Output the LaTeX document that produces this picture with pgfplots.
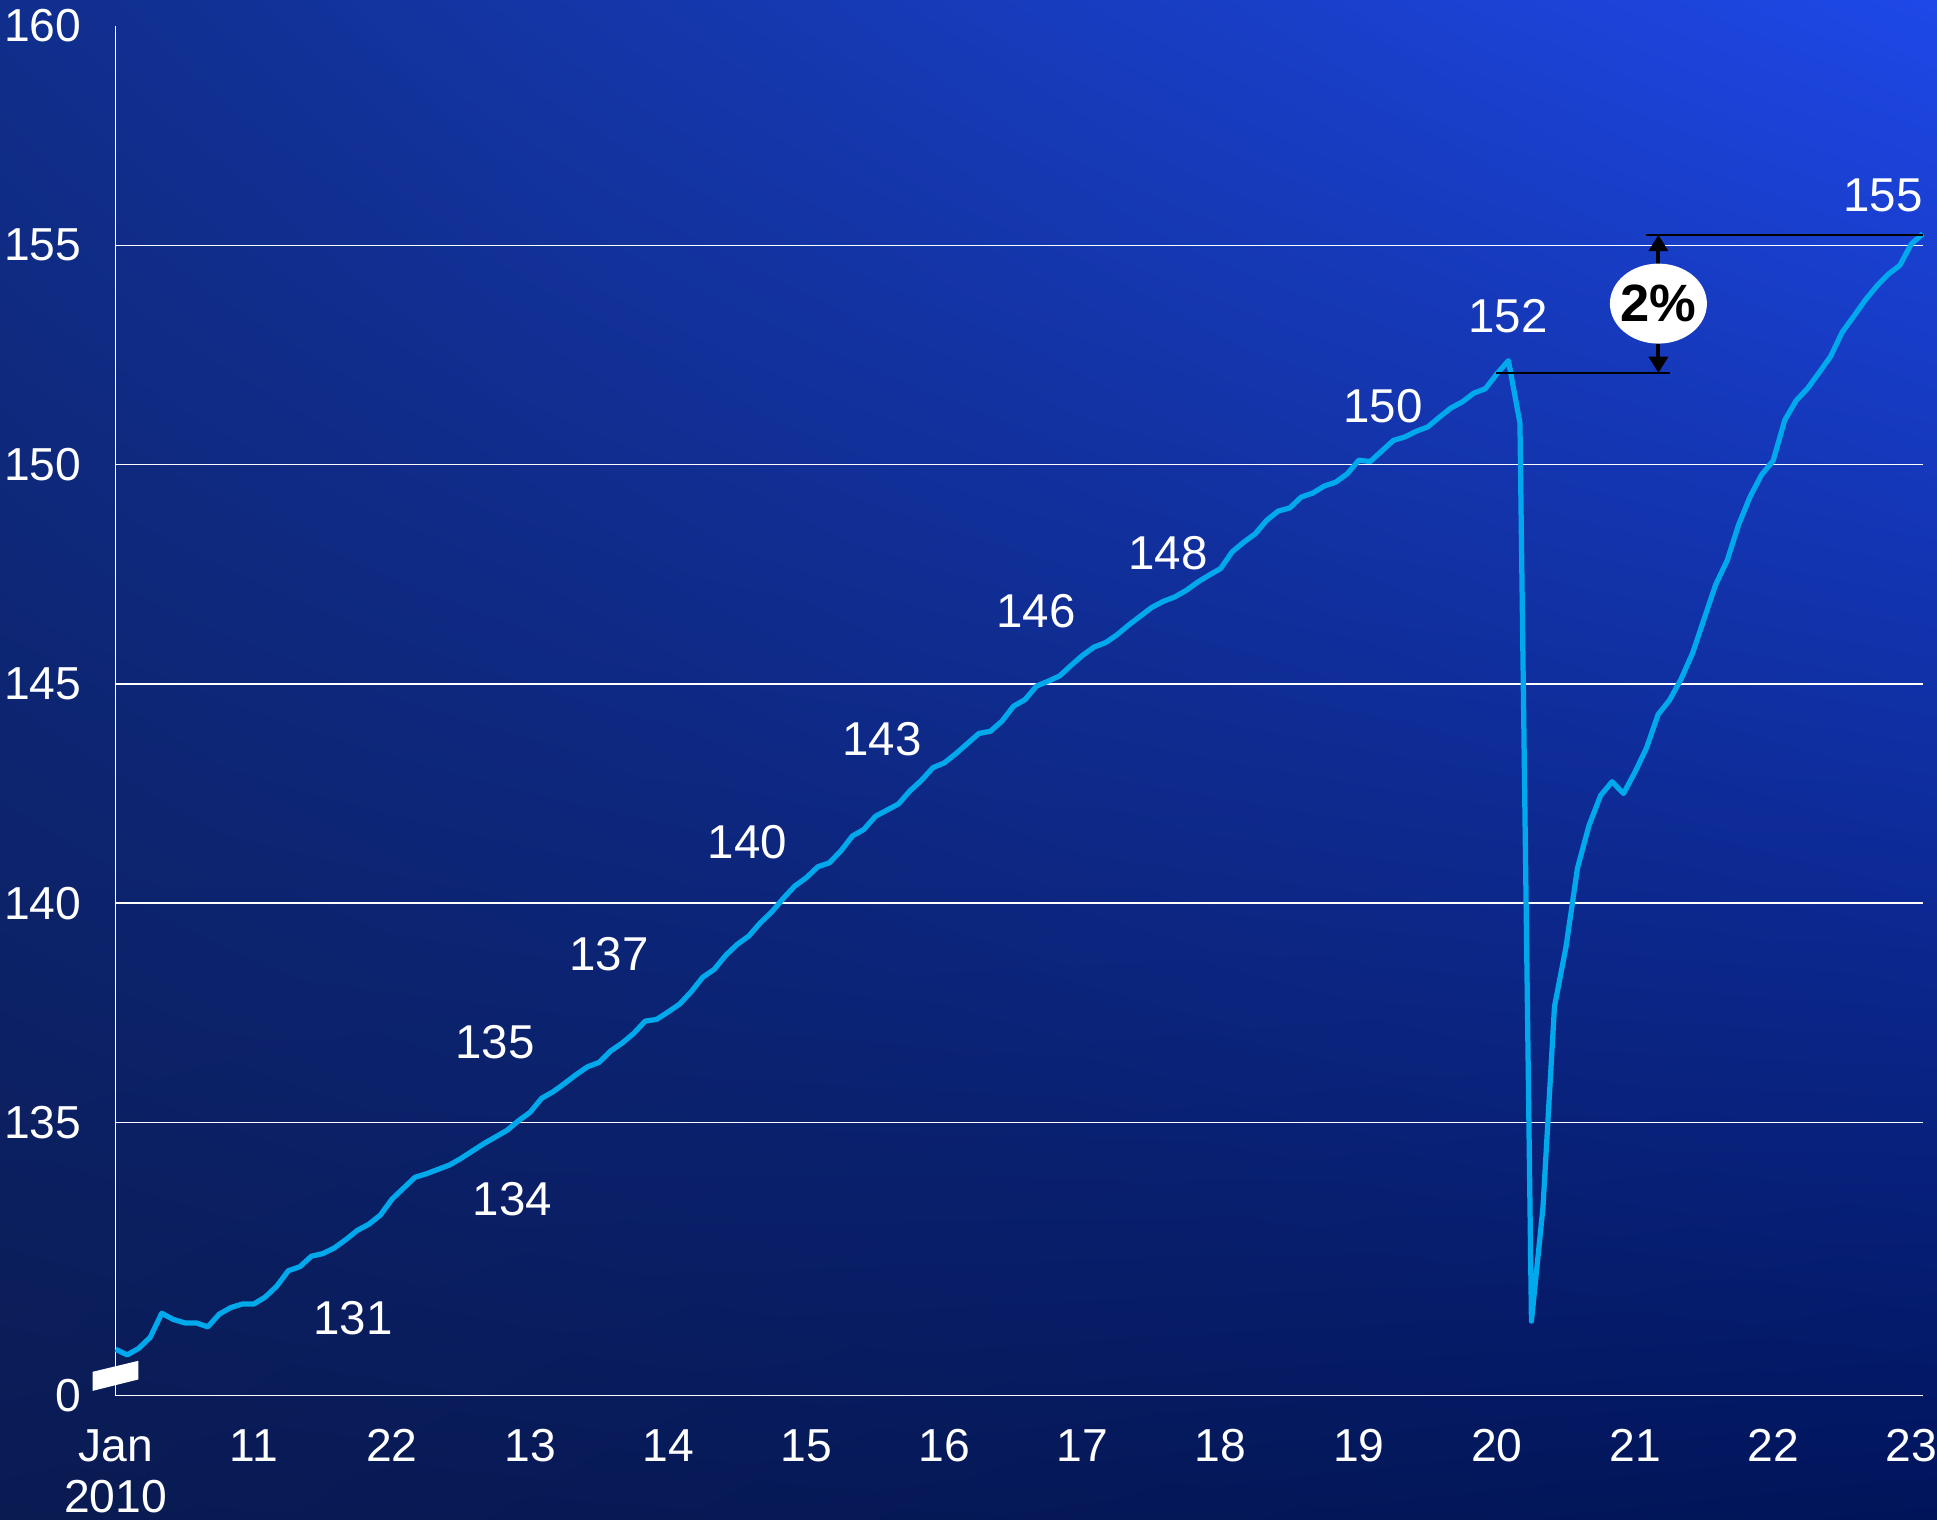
\documentclass[border=0pt]{standalone}
\usepackage{fontspec}
\setmainfont{Liberation Sans}
\usepackage{pgfplots}
\pgfplotsset{compat=1.18}
\usetikzlibrary{arrows.meta,shadings}
\definecolor{bgUL}{RGB}{16,46,140}
\definecolor{bgUR}{RGB}{30,72,232}
\definecolor{bgLL}{RGB}{10,27,82}
\definecolor{bgLR}{RGB}{0,20,90}
\definecolor{lineblue}{RGB}{0,168,236}
\begin{document}
\begin{tikzpicture}
\shade[upper left=bgUL, upper right=bgUR, lower left=bgLL, lower right=bgLR] (0,0) rectangle (774.8pt,608pt);
\begin{axis}[
  at={(46.28pt,49.72pt)}, anchor=south west,
  scale only axis, width=722.84pt, height=547.88pt,
  xmin=0, xmax=157, ymin=128.77, ymax=160,
  enlargelimits=false, clip=false,
  axis x line*=bottom, axis y line*=left,
  axis line style={white, line width=0.55pt, -},
  x axis line style={-}, y axis line style={-},
  major tick length=0pt, tick style={draw=none},
  xtick={0,12,24,36,48,60,72,84,96,108,120,132,144,156},
  xticklabels={{Jan\\2010},11,22,13,14,15,16,17,18,19,20,21,22,23},
  ytick={135,140,145,150,155},
  yticklabels={135,140,145,150,155},
  extra y ticks={128.77,160}, extra y tick labels={0,160},
  extra y tick style={grid=none},
  ymajorgrids, grid style={white, line width=0.55pt},
  tick label style={font=\fontsize{18.5}{20.6}\selectfont, text=white},
  xticklabel style={anchor=north, inner sep=0pt, yshift=-13.3pt, align=center},
  yticklabel style={anchor=east, inner sep=0pt, xshift=-13.6pt},
]
\addplot[color=lineblue, line width=2.1pt, line join=round, no markers] table[x=m, y=v] {
m v
0 129.83
1 129.70
2 129.85
3 130.10
4 130.65
5 130.51
6 130.43
7 130.43
8 130.34
9 130.63
10 130.78
11 130.86
12 130.86
13 131.02
14 131.27
15 131.62
16 131.71
17 131.95
18 132.01
19 132.14
20 132.33
21 132.54
22 132.68
23 132.89
24 133.25
25 133.50
26 133.75
27 133.83
28 133.93
29 134.03
30 134.18
31 134.35
32 134.52
33 134.67
34 134.82
35 135.04
36 135.23
37 135.55
38 135.70
39 135.89
40 136.09
41 136.27
42 136.37
43 136.63
44 136.81
45 137.03
46 137.31
47 137.35
48 137.52
49 137.70
50 137.98
51 138.31
52 138.49
53 138.81
54 139.06
55 139.25
56 139.55
57 139.80
58 140.11
59 140.39
60 140.58
61 140.83
62 140.92
63 141.19
64 141.53
65 141.68
66 141.98
67 142.12
68 142.26
69 142.56
70 142.80
71 143.09
72 143.20
73 143.41
74 143.64
75 143.87
76 143.92
77 144.15
78 144.49
79 144.64
80 144.95
81 145.06
82 145.18
83 145.42
84 145.65
85 145.84
86 145.94
87 146.12
88 146.34
89 146.54
90 146.74
91 146.88
92 146.98
93 147.13
94 147.32
95 147.48
96 147.63
97 148.01
98 148.23
99 148.42
100 148.73
101 148.94
102 149.01
103 149.26
104 149.35
105 149.51
106 149.60
107 149.79
108 150.10
109 150.07
110 150.31
111 150.55
112 150.63
113 150.76
114 150.86
115 151.08
116 151.29
117 151.43
118 151.63
119 151.73
120 152.07
121 152.37
122 150.95
123 130.47
124 133.06
125 137.64
126 139.00
127 140.80
128 141.77
129 142.45
130 142.77
131 142.50
132 142.99
133 143.54
134 144.30
135 144.63
136 145.11
137 145.70
138 146.48
139 147.26
140 147.81
141 148.63
142 149.27
143 149.77
144 150.09
145 151.01
146 151.46
147 151.74
148 152.10
149 152.47
150 153.02
151 153.38
152 153.75
153 154.07
154 154.34
155 154.54
156 155.03
157 155.26
};
% axis break
\fill[white] (axis cs:-2.0,129.315) -- (axis cs:1.96,129.565) -- (axis cs:1.96,129.14) -- (axis cs:-2.0,128.88) -- cycle;
% value annotations
\begin{scope}[every node/.style={text=white, font=\fontsize{19}{21.6}\selectfont}]
\node at (axis cs:20.62,130.54) {131};
\node at (axis cs:34.47,133.25) {134};
\node at (axis cs:32.95,136.82) {135};
\node at (axis cs:42.86,138.84) {137};
\node at (axis cs:54.89,141.38) {140};
\node at (axis cs:66.58,143.74) {143};
\node at (axis cs:79.96,146.66) {146};
\node at (axis cs:91.42,147.99) {148};
\node at (axis cs:110.10,151.33) {150};
\node at (axis cs:120.96,153.38) {152};
\node at (axis cs:153.55,156.14) {155};
\end{scope}
% 2% marker
\draw[black, line width=0.75pt] (axis cs:132.95,155.24) -- (axis cs:157,155.24);
\draw[black, line width=0.75pt] (axis cs:119.93,152.09) -- (axis cs:135.04,152.09);
\draw[black, line width=1.6pt, -{Triangle[width=7.5pt,length=6.5pt]}] (axis cs:134.03,154.5) -- (axis cs:134.03,155.24);
\draw[black, line width=1.6pt, -{Triangle[width=7.5pt,length=6.5pt]}] (axis cs:134.03,152.8) -- (axis cs:134.03,152.09);
\fill[white] (axis cs:134.03,153.67) ellipse [x radius=19.4pt, y radius=16pt];
\node[inner sep=0pt, text=black, font=\bfseries\fontsize{21}{24}\selectfont] at (axis cs:134.03,153.67) {2\%};
\end{axis}
\end{tikzpicture}
\end{document}
